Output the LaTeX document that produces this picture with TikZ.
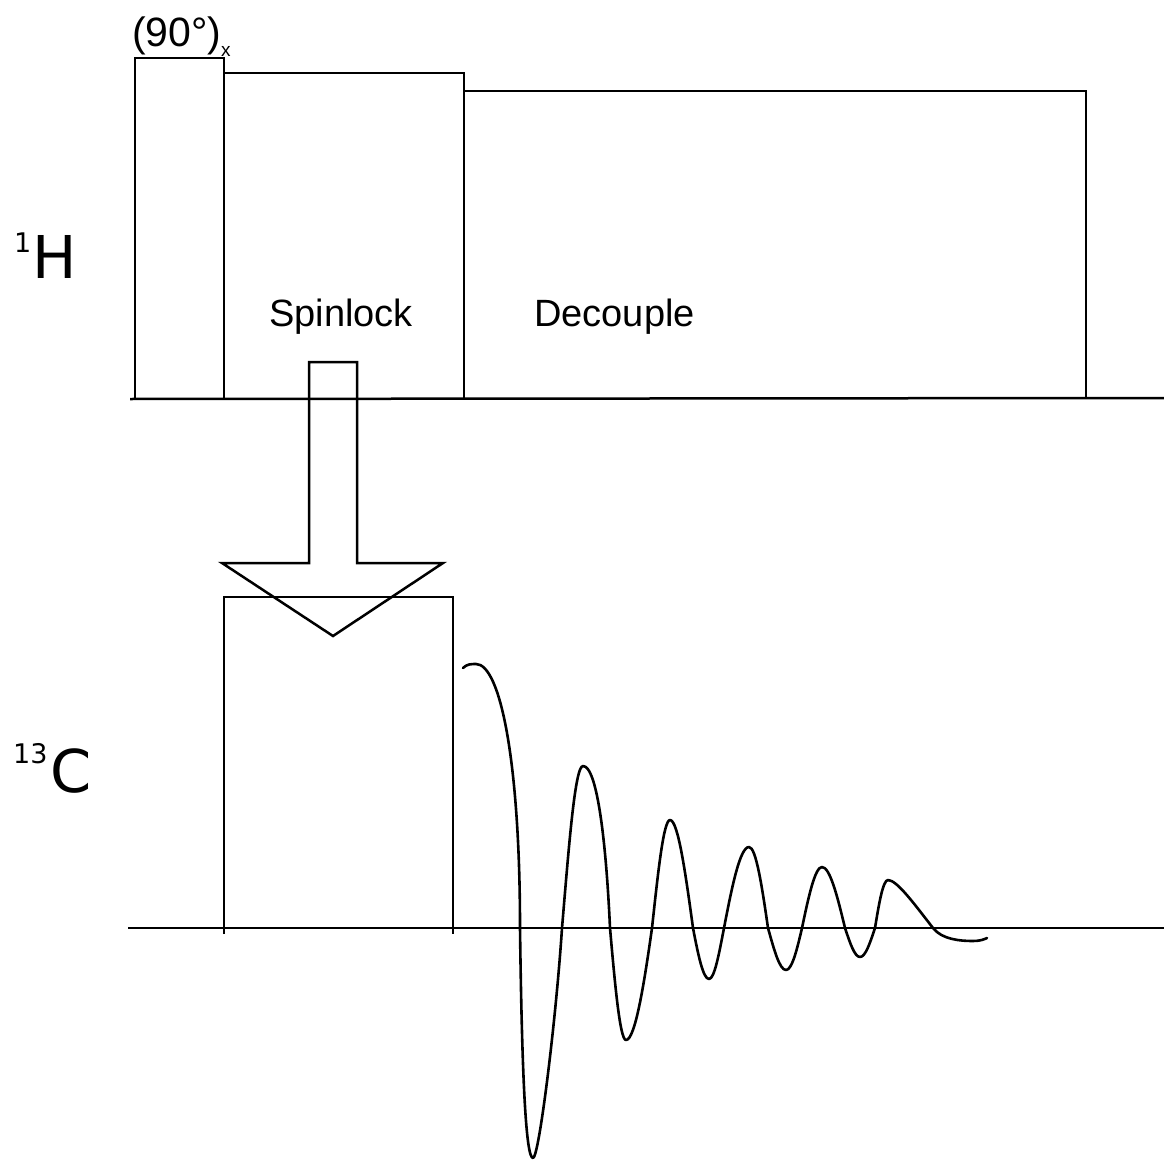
\documentclass[tikz,border=0pt]{standalone}
\usepackage{fontspec}
\setmainfont{Liberation Sans}
\newfontfamily\nucfont{DejaVu Sans}
\begin{document}
\begin{tikzpicture}[x=1pt,y=-1pt,
  seq/.style={line width=2.5pt, line join=miter},
  fid/.style={line width=2.6pt, line cap=round, line join=round},
  lbl/.style={inner sep=0pt, anchor=base west, font=\fontsize{38}{40}\selectfont},
  nuc/.style={inner sep=0pt, anchor=base west, font=\nucfont\fontsize{59}{59}\selectfont},
  iso/.style={inner sep=0pt, anchor=base west, font=\nucfont\fontsize{27}{27}\selectfont}]
\useasboundingbox (0,0) rectangle (1164,1161);
% 1H channel
\draw[seq] (130,399) -- (1164,398);
\draw[seq] (135,398) -- (135,58) -- (224,58) -- (224,398);
\draw[seq] (224,398) -- (224,73) -- (464,73) -- (464,398);
\draw[seq] (464,398) -- (464,91) -- (1086,91) -- (1086,398);
% 13C channel
\draw[seq] (128,928) -- (1164,928);
\draw[seq] (224,934) -- (224,597) -- (453,597) -- (453,934);
% transfer arrow
\draw[seq] (309,563) -- (309,362) -- (357,362) -- (357,563) -- (443,563) -- (333,636) -- (222,563) -- cycle;
% FID
\draw[fid] (463,668) .. controls (467,664) and (471,664) .. (476,664)
  .. controls (500,664) and (520,760) .. (520,928)
  .. controls (522,1080) and (526,1158) .. (533,1158)
  .. controls (539,1158) and (556,1020) .. (562,928)
  .. controls (569,845) and (575,766) .. (583,766)
  .. controls (597,766) and (606,840) .. (610,928)
  .. controls (615,985) and (620,1040) .. (626,1040)
  .. controls (635,1040) and (644,985) .. (652,928)
  .. controls (658,873) and (663.5,820) .. (670,820)
  .. controls (678,820) and (685.5,873) .. (693,928)
  .. controls (698,954) and (703,979) .. (709,979)
  .. controls (714.4,979) and (719,954) .. (724,928)
  .. controls (732,886.5) and (740,847) .. (749,847)
  .. controls (756,847) and (762,886.5) .. (768,928)
  .. controls (774,949.5) and (779.5,970) .. (786,970)
  .. controls (792,970) and (797,949.5) .. (802,928)
  .. controls (808.5,896.8) and (815,867) .. (822,867)
  .. controls (830,867) and (837.5,896.8) .. (845,928)
  .. controls (850,943) and (854.6,957) .. (860,957)
  .. controls (865.4,957) and (870,943) .. (875,928)
  .. controls (879,903.4) and (883,880) .. (888,880)
  .. controls (897,880) and (915,905) .. (933,928)
  .. controls (942,939.5) and (960,941) .. (973,941)
  .. controls (980,941) and (984,939.5) .. (987,938);
% labels
\node[lbl, font=\fontsize{41}{42}\selectfont] (pulse) at (132,47) {(90°)};
\node[inner sep=0pt, anchor=base west, font=\fontsize{19}{19}\selectfont] (sub) at (221,57) {x};
\node[lbl] (spin) at (269,326) {Spinlock};
\node[lbl] (dec) at (534,326) {Decouple};
\node[iso] (h1) at (14,252) {1};
\node[nuc] (h) at (32,278) {H};
\node[iso] (c13) at (13,763) {13};
\node[nuc] (c) at (50,792) {C};
\end{tikzpicture}
\end{document}
